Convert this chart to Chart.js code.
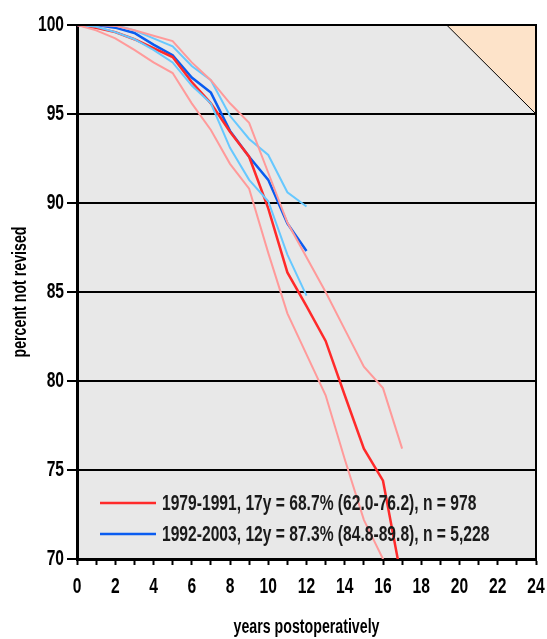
<!DOCTYPE html>
<html>
<head>
<meta charset="utf-8">
<script src="https://cdn.jsdelivr.net/npm/chart.js@4/dist/chart.umd.min.js"></script>
<style>
  html, body { margin: 0; padding: 0; background: #fff; }
  #wrap { width: 547px; height: 639px; position: relative; }
</style>
</head>
<body>
<div id="wrap"><canvas id="c" width="547" height="639"></canvas></div>
<script>
// ---- data ----
const yearsA = [0,1,2,3,4,5,6,7,8,9,10,11,12,13,14,15,16,17];
const survA  = [100,99.85,99.6,99.2,98.7,98.2,96.8,95.6,94.0,92.6,89.7,86.1,84.2,82.25,79.2,76.2,74.4,68.7];
const upperA = [100,100,99.95,99.7,99.4,99.1,97.9,96.9,95.6,94.5,91.7,88.9,86.95,85.0,82.9,80.8,79.6,76.2];
const lowerA = [100,99.7,99.25,98.6,97.9,97.3,95.6,94.1,92.2,90.8,87.2,83.8,81.5,79.2,75.6,72.2,70.0,62.0];

const yearsB = [0,1,2,3,4,5,6,7,8,9,10,11,12];
const survB  = [100,100,99.85,99.55,98.9,98.3,97.05,96.2,94.05,92.6,91.3,88.85,87.3];
const upperB = [100,100,100,99.7,99.25,98.8,97.7,96.9,94.9,93.6,92.7,90.6,89.8];
const lowerB = [100,99.9,99.6,99.2,98.6,97.9,96.6,95.6,93.1,91.3,90.1,87.1,84.8];

const labelA = "1979-1991, 17y = 68.7% (62.0-76.2), n = 978";
const labelB = "1992-2003, 12y = 87.3% (84.8-89.8), n = 5,228";

// corner region (x in years, y in percent)
const cornerX = [19.33, 24];
const cornerY = [100, 95];

const yTicks = [70,75,80,85,90,95,100];
const xMin = 0, xMax = 24;

const pts = (xs, ys) => xs.map((x, i) => ({x: x, y: ys[i]}));

// condensed text: squeeze glyphs horizontally (text stays real text)
const SX = 0.71;
(function () {
  const proto = CanvasRenderingContext2D.prototype;
  const origFill = proto.fillText, origMeasure = proto.measureText;
  proto.fillText = function (t, x, y) {
    this.save(); this.translate(x, y); this.scale(SX, 1);
    origFill.call(this, t, 0, 0);
    this.restore();
  };
  proto.measureText = function (t) {
    const m = origMeasure.call(this, t);
    return {width: m.width * SX,
            actualBoundingBoxAscent: m.actualBoundingBoxAscent,
            actualBoundingBoxDescent: m.actualBoundingBoxDescent,
            actualBoundingBoxLeft: m.actualBoundingBoxLeft * SX,
            actualBoundingBoxRight: m.actualBoundingBoxRight * SX};
  };
})();

const FONT = "'Liberation Sans', Arial, sans-serif";

const bgPlugin = {
  id: 'bg',
  beforeDraw(chart) {
    const {ctx, chartArea: a} = chart;
    ctx.save();
    ctx.fillStyle = '#e8e8e8';
    ctx.fillRect(a.left, a.top, a.right - a.left, a.bottom - a.top);
    ctx.restore();
  },
  afterDraw(chart) {
    const {ctx, chartArea: a} = chart;
    ctx.save();
    ctx.strokeStyle = '#000';
    ctx.lineWidth = 2;
    ctx.beginPath();
    ctx.moveTo(a.left, a.top); ctx.lineTo(a.right, a.top); ctx.lineTo(a.right, a.bottom);
    ctx.stroke();
    // legend
    const items = chart.data.datasets.filter(d => d.inLegend);
    ctx.font = "bold 22px " + FONT;
    ctx.textBaseline = 'middle';
    ctx.textAlign = 'left';
    items.forEach((d, i) => {
      const y = a.bottom - 56 + i * 31;
      ctx.strokeStyle = d.borderColor;
      ctx.lineWidth = 2.5;
      ctx.beginPath();
      ctx.moveTo(a.left + 23, y); ctx.lineTo(a.left + 79, y);
      ctx.stroke();
      ctx.fillStyle = '#1a1a1a';
      ctx.fillText(d.label, a.left + 85, y + 1);
    });
    ctx.restore();
  }
};

const ciStyle = (c) => ({borderColor: c, borderWidth: 2, pointRadius: 0, fill: false, tension: 0});

new Chart(document.getElementById('c'), {
  type: 'line',
  data: {
    datasets: [
      {label: 'corner', data: pts(cornerX, cornerY), borderColor: '#000', borderWidth: 1,
       backgroundColor: '#fde3c9', fill: 'end', pointRadius: 0},
      Object.assign({label: 'A upper', data: pts(yearsA, upperA)}, ciStyle('#ff9a9a')),
      Object.assign({label: 'A lower', data: pts(yearsA, lowerA)}, ciStyle('#ff9a9a')),
      Object.assign({label: 'B upper', data: pts(yearsB, upperB)}, ciStyle('#66c8ff')),
      Object.assign({label: 'B lower', data: pts(yearsB, lowerB)}, ciStyle('#66c8ff')),
      {label: labelA, inLegend: true, data: pts(yearsA, survA), borderColor: '#ff2a2a', borderWidth: 2.5, pointRadius: 0, fill: false},
      {label: labelB, inLegend: true, data: pts(yearsB, survB), borderColor: '#0a5cf0', borderWidth: 2.5, pointRadius: 0, fill: false}
    ]
  },
  options: {
    responsive: false,
    animation: false,
    layout: {padding: {top: 25, right: 11, left: 0, bottom: 0}},
    plugins: {legend: {display: false}, tooltip: {enabled: false}},
    scales: {
      x: {
        type: 'linear', min: xMin, max: xMax,
        ticks: {stepSize: 1, autoSkip: false, maxRotation: 0, color: '#000', padding: 9,
                font: {family: FONT, size: 22, weight: 'bold'},
                callback: v => (v % 2 === 0 ? String(v) : '')},
        grid: {drawOnChartArea: false, drawTicks: true, tickLength: 6, tickColor: '#000', tickWidth: 2},
        border: {display: true, color: '#000', width: 3},
        title: {display: true, text: 'years postoperatively', color: '#000',
                font: {family: FONT, size: 20, weight: 'bold'}, padding: {top: 0, bottom: 0}},
        afterFit: s => { s.height = 80; s.paddingLeft = 0; s.paddingRight = 0; }
      },
      y: {
        min: 70, max: 100,
        afterBuildTicks: s => { s.ticks = yTicks.map(v => ({value: v})); },
        ticks: {color: '#000', padding: 3, font: {family: FONT, size: 22, weight: 'bold'}},
        grid: {color: '#000', lineWidth: 2, tickLength: 10, tickColor: '#000', tickWidth: 2},
        border: {display: true, color: '#000', width: 3},
        title: {display: true, text: 'percent not revised', color: '#000',
                font: {family: FONT, size: 20, weight: 'bold'}, padding: {top: 8, bottom: 0}},
        afterFit: s => { s.width = 77; s.paddingTop = 0; s.paddingBottom = 0; }
      }
    }
  },
  plugins: [bgPlugin]
});
</script>
</body>
</html>
